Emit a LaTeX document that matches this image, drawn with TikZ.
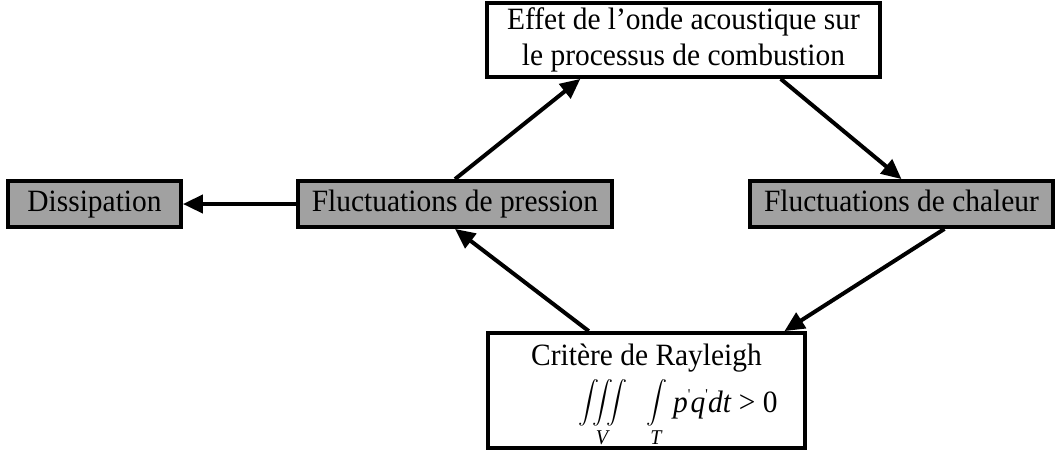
\documentclass[tikz,border=0pt]{standalone}
\usepackage{amsmath}
\usepackage{graphicx}
\usepackage{fontspec}
\setmainfont[FakeStretch=0.95]{Liberation Serif}
\usetikzlibrary{arrows.meta,calc}
\begin{document}
\begin{tikzpicture}[x=1pt,y=-1pt,
  txt/.style={font=\fontsize{31}{36}\selectfont,inner sep=0pt},
  box/.style={draw=black,line width=3.8pt,minimum height=46pt,inner sep=0pt,txt,text height=22pt,text depth=7pt},
  grey/.style={box,fill=black!37},
  white/.style={box,fill=white,align=center},
  arr/.style={line width=4pt,-{Triangle[length=20pt,width=18pt]}},
  integ/.style={inner sep=0pt,text height=20pt,text depth=20pt}]
\useasboundingbox (0,0) rectangle (1060,451);
\node[grey,minimum width=173pt] (diss) at (94.5,204) {Dissipation};
\node[grey,minimum width=314pt] (pres) at (455,204) {Fluctuations de pression};
\node[grey,minimum width=303pt] (chal) at (901.5,204) {Fluctuations de chaleur};
\node[white,minimum width=393pt,minimum height=74pt,text height=,text depth=] (top) at (683.5,40)
  {\fontsize{31}{35}\selectfont Effet de l’onde acoustique sur\\le processus de combustion};
\node[white,minimum width=317pt,minimum height=115pt,text height=,text depth=] (bot) at (646.5,390.5) {};
\node[txt,anchor=base] (crit) at (646.5,365) {Critère de Rayleigh};
\node[integ] (iii) at (603,403) {\smash{\raisebox{-5.3pt}{\scalebox{2.1}{$\displaystyle\iiint$}}}};
\node[inner sep=0pt,font=\fontsize{21}{21}\selectfont\itshape,anchor=base] (vv) at (602,444) {V};
\node[integ] (ii) at (657,403) {\smash{\raisebox{-5.3pt}{\scalebox{2.1}{$\displaystyle\int$}}}};
\node[inner sep=0pt,font=\fontsize{21}{21}\selectfont\itshape,anchor=base] (tt) at (656,444) {T};
\node[txt,anchor=base west] (expr) at (673,412)
  {\textit{p}\raisebox{13pt}{\fontsize{15}{15}\selectfont\textquotesingle}\textit{q}\raisebox{13pt}{\fontsize{15}{15}\selectfont\textquotesingle}\textit{dt} > 0};
\draw[arr] (pres.west) -- (diss.east);
\draw[arr] (pres.north) -- ($(top.south west)!0.24!(top.south east)$);
\draw[arr] ($(top.south west)!0.745!(top.south east)$) -- (chal.north);
\draw[arr] ($(chal.south west)!0.64!(chal.south east)$) -- ($(bot.north west)!0.93!(bot.north east)$);
\draw[arr] ($(bot.north west)!0.32!(bot.north east)$) -- (pres.south);
\end{tikzpicture}
\end{document}
